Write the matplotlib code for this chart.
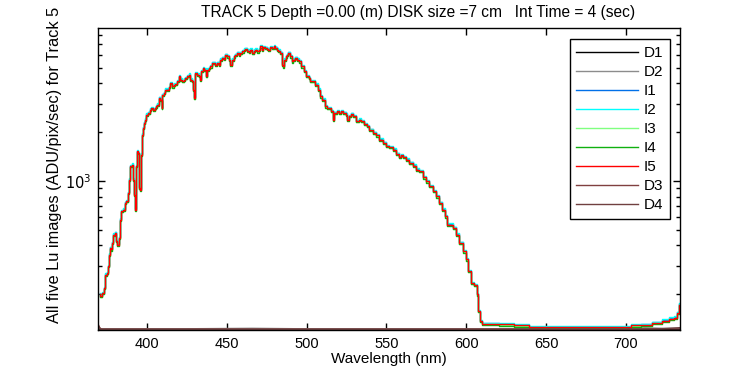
import numpy as np
import matplotlib
matplotlib.use("Agg")
import matplotlib.pyplot as plt
import matplotlib.transforms as mtransforms
from matplotlib.ticker import LogLocator, FixedLocator, NullFormatter

plt.rcParams.update({
    "font.family": ["Liberation Sans", "DejaVu Sans"],
    "font.size": 10,
})

# wavelength (nm) and counts of the illuminated images (I5 trace, the others sit on it)
wl = [370.4, 371.5, 372.5, 373.5, 374.6, 375.6, 376.3, 376.7, 377.3, 378.1,
      378.8, 379.4, 380.2, 380.8, 381.9, 382.9, 383.5, 384.4, 385.6, 386.5,
      387.7, 388.1, 389.2, 390.2, 390.8, 391.5, 392.3, 392.7, 393.3, 394.0,
      394.8, 395.4, 396.0, 396.5, 397.1, 397.7, 398.5, 399.2, 400.2, 401.0,
      402.3, 403.1, 404.4, 405.2, 406.0, 406.9, 407.9, 409.0, 409.4, 410.0,
      411.0, 412.1, 413.1, 414.2, 415.2, 416.2, 417.3, 418.3, 419.4, 420.4,
      421.5, 422.5, 423.5, 424.6, 425.6, 426.7, 427.7, 428.8, 429.4, 429.8,
      430.8, 431.9, 432.9, 433.5, 434.4, 435.6, 436.5, 437.3, 438.1, 439.2,
      440.2, 441.2, 442.3, 443.3, 444.4, 445.4, 446.5, 447.5, 448.5, 449.6,
      450.6, 451.7, 452.3, 453.8, 454.8, 455.8, 456.9, 457.9, 459.0, 460.0,
      461.0, 462.1, 463.1, 464.2, 465.2, 466.3, 467.3, 468.3, 469.4, 470.4,
      471.5, 472.5, 473.5, 474.6, 475.6, 476.7, 477.7, 478.8, 479.8, 480.8,
      481.9, 482.9, 484.0, 485.0, 485.6, 486.5, 487.1, 488.1, 489.2, 490.2,
      491.3, 492.3, 493.3, 494.6, 495.6, 497.7, 498.8, 500.8, 501.9, 502.9,
      505.0, 506.0, 507.7, 509.2, 510.6, 511.9, 513.3, 514.8, 516.0, 516.5,
      517.5, 518.5, 519.6, 520.6, 522.3, 523.8, 525.2, 526.0, 527.3, 528.5,
      530.0, 532.1, 533.5, 535.2, 536.9, 538.3, 540.4, 542.5, 544.6, 546.7,
      548.8, 550.8, 552.9, 555.0, 557.1, 558.1, 559.8, 561.3, 563.3, 565.4,
      567.5, 569.6, 571.7, 573.8, 575.8, 577.9, 580.0, 582.1, 584.2, 585.8,
      587.3, 588.9, 590.4, 592.5, 594.6, 596.7, 598.8, 600.2, 601.9, 603.5,
      606.0, 607.1, 608.1, 609.2, 610.2, 614.4, 626.9, 633.1, 645.6, 664.4,
      685.2, 699.8, 706.0, 712.3, 720.6, 724.8, 729.0, 731.5, 732.5, 733.3]
lu = [199, 194, 203, 218, 264, 270, 297, 351, 386, 377,
      414, 466, 477, 424, 404, 445, 577, 649, 665, 731,
      748, 843, 1019, 1231, 1259, 1019, 822, 665, 1231, 1523,
      1486, 904, 883, 1452, 1932, 2123, 2280, 2388, 2565, 2625,
      2754, 2818, 2754, 2818, 2884, 2958, 3251, 3177, 2818, 3404,
      3491, 3656, 3656, 3784, 4018, 3837, 3926, 3963, 4121, 4426,
      4217, 4121, 4217, 4315, 4426, 4529, 4217, 4121, 3656, 3251,
      4634, 4529, 4426, 4217, 4753, 4977, 4864, 4426, 4864, 4977,
      5093, 5346, 5346, 5224, 5346, 5224, 5610, 5741, 5689, 6012,
      5875, 5610, 5224, 5610, 5875, 6012, 6166, 6012, 6166, 6310,
      6457, 6546, 6368, 6252, 6457, 6166, 6368, 6457, 6310, 6457,
      6776, 6457, 6683, 6622, 6546, 6457, 6683, 6622, 6776, 6622,
      6457, 6368, 6166, 5224, 5093, 5610, 5875, 6012, 6166, 5875,
      5470, 5610, 5741, 5610, 5470, 5093, 4753, 4426, 4315, 4121,
      4121, 3926, 3656, 3327, 3177, 2884, 2818, 2818, 2692, 2388,
      2625, 2625, 2692, 2625, 2692, 2625, 2565, 2388, 2506, 2588,
      2506, 2333, 2388, 2333, 2244, 2173, 2070, 1977, 1910, 1799,
      1714, 1637, 1618, 1560, 1466, 1400, 1439, 1400, 1352, 1291,
      1242, 1175, 1146, 1052, 993, 926, 863, 803, 731, 665,
      604, 537, 537, 512, 466, 414, 367, 327, 277, 234,
      227, 199, 157, 136, 131, 131, 130, 128, 125, 125,
      125, 125, 128, 129, 133, 137, 141, 143, 153, 172]

# dark frames, flat at the bottom of the axis
wl_dark = [369.5, 370.5, 371.5, 380, 420, 466, 500, 600, 700, 712, 722, 733.5]
d1 = [121, 121, 121, 121, 121, 121, 121, 121, 121, 121, 121, 121]
d2 = [123, 122, 122, 122, 122, 123, 122, 122, 122, 124, 123, 123]
d3 = [130, 124, 121.5, 121.5, 121.5, 121.5, 121.5, 121.5, 121.5, 121.5, 122, 122]
d4 = [128, 123, 121.5, 121.5, 121.5, 121.5, 121.5, 121.5, 121.5, 122, 122, 124]

names = ["D1", "D2", "I1", "I2", "I3", "I4", "I5", "D3", "D4"]
colors = ["#000000", "#8C8C8C", "#0070E8", "#00FFFF", "#80FF80",
          "#10B010", "#FF0000", "#804040", "#704040"]
# small vertical pixel shifts so the coincident illuminated traces show as fringes
shift_px = {"I1": 0.5, "I2": 1.2, "I3": -0.6, "I4": -1.2, "I5": 0.0}

fig = plt.figure(figsize=(7.5, 3.75), dpi=100)
ax = fig.add_axes([98 / 750, 1 - 330 / 375, 582 / 750, 302 / 375])

for name, col in zip(names, colors):
    if name.startswith("I"):
        tr = mtransforms.offset_copy(ax.transData, fig=fig, x=0,
                                     y=shift_px[name] * 0.72, units="points")
        ax.plot(wl, lu, color=col, lw=1.0, label=name, transform=tr,
                drawstyle="steps-mid")
    else:
        dv = {"D1": d1, "D2": d2, "D3": d3, "D4": d4}[name]
        ax.plot(wl_dark, dv, color=col, lw=1.0, label=name)

ax.set_yscale("log")
ax.set_xlim(369.4, 733.8)
ax.set_ylim(120, 8790)
ax.set_xticks([400, 450, 500, 550, 600, 650, 700])
ax.yaxis.set_major_locator(FixedLocator([1000]))
ax.yaxis.set_major_formatter(matplotlib.ticker.FuncFormatter(lambda v, p: r"$10^{3}$"))
ax.yaxis.set_minor_locator(LogLocator(base=10, subs=np.arange(2, 10)))
ax.yaxis.set_minor_formatter(NullFormatter())
ax.tick_params(which="both", direction="in", top=True, right=True)
ax.tick_params(which="major", length=5, width=1, labelsize=10.5, pad=5)
ax.tick_params(which="minor", length=3, width=1)
for s in ax.spines.values():
    s.set_linewidth(1.0)

ax.set_xlabel("Wavelength (nm)", fontsize=11, labelpad=1)
fig.text(55 / 750, (375 - 323) / 375, "All five Lu images (ADU/pix/sec) for Track 5",
         rotation=90, ha="center", va="bottom", fontsize=11.8)
fig.text(418 / 750, 1 - 12 / 375,
         "TRACK 5 Depth =0.00 (m) DISK size =7 cm   Int Time = 4 (sec)",
         ha="center", va="center", fontsize=11.2)

leg = ax.legend(loc="upper right", bbox_to_anchor=(670 / 750, 1 - 39 / 375),
                bbox_transform=fig.transFigure, frameon=True, fancybox=False,
                edgecolor="black", framealpha=1, fontsize=11, handlelength=4.0,
                handletextpad=0.4, labelspacing=0.33, borderaxespad=0,
                borderpad=0.45)
leg.get_frame().set_linewidth(1.0)

fig.savefig("out.png", dpi=100)
